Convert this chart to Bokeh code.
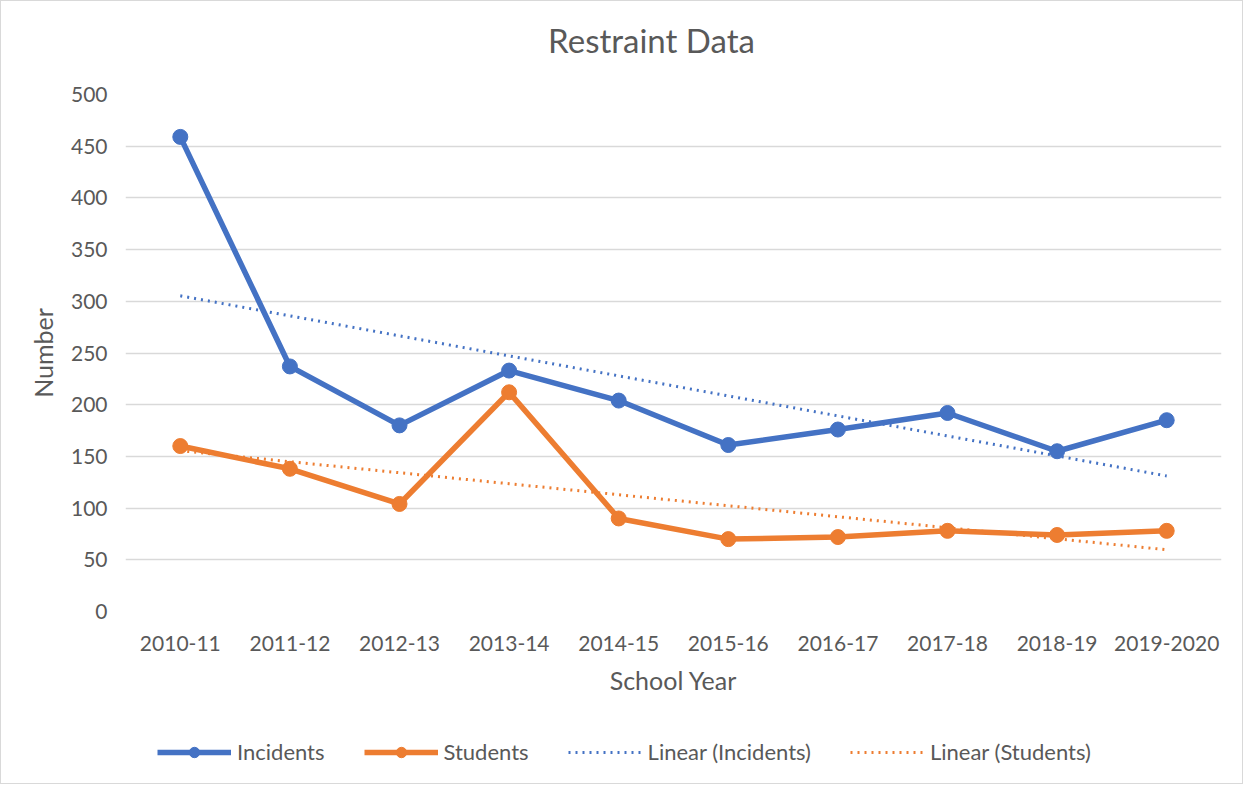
import numpy as np
from bokeh.plotting import figure
from bokeh.layouts import column
from bokeh.models import Legend, LegendItem, Range1d, SingleIntervalTicker, Div
from bokeh.embed import file_html
from bokeh.resources import INLINE

years = ["2010-11", "2011-12", "2012-13", "2013-14", "2014-15",
         "2015-16", "2016-17", "2017-18", "2018-19", "2019-2020"]
incidents = [459, 237, 180, 233, 204, 161, 176, 192, 155, 185]
students = [160, 138, 104, 212, 90, 70, 72, 78, 74, 78]

BLUE = "#4472C4"
ORANGE = "#ED7D31"
TEXT = "#595959"
GRID = "#D9D9D9"
FONT = "Lato"

# linear trendlines (least squares, as in the spreadsheet trendline)
xi = np.arange(len(years))
ci = np.polyfit(xi, incidents, 1)
cs = np.polyfit(xi, students, 1)
trend_inc = list(np.polyval(ci, xi))
trend_stu = list(np.polyval(cs, xi))

W = 1241

title = Div(text="Restraint Data", width=W, height=79, margin=0,
            styles={"font-family": FONT, "font-size": "33px", "color": TEXT,
                    "text-align": "center", "line-height": "78px",
                    "padding-left": "60px", "box-sizing": "border-box",
                    "width": f"{W}px"})

p = figure(x_range=years, width=W, height=631, output_backend="svg",
           toolbar_location=None,
           min_border_left=124, min_border_right=21,
           min_border_top=14, min_border_bottom=100)
p.y_range = Range1d(0, 500)
p.outline_line_color = None

p.xgrid.grid_line_color = None
p.ygrid.grid_line_color = GRID
p.ygrid.grid_line_width = 1.5
p.yaxis.ticker = SingleIntervalTicker(interval=50)

for ax in (p.xaxis, p.yaxis):
    ax.axis_line_color = None
    ax.major_tick_line_color = None
    ax.minor_tick_line_color = None
    ax.major_label_text_font = FONT
    ax.major_label_text_font_size = "21px"
    ax.major_label_text_color = TEXT
    ax.axis_label_text_font = FONT
    ax.axis_label_text_font_size = "25px"
    ax.axis_label_text_font_style = "normal"
    ax.axis_label_text_color = TEXT

p.xaxis.axis_label = "School Year"
p.yaxis.axis_label = "Number"
p.yaxis.major_label_standoff = 12
p.yaxis.axis_label_standoff = 10
p.xaxis.major_label_standoff = 18
p.xaxis.axis_label_standoff = 11

p.line(years, trend_inc, line_color=BLUE, line_width=3, line_dash="2 5")
p.line(years, trend_stu, line_color=ORANGE, line_width=3, line_dash="2 5")
p.line(years, incidents, line_color=BLUE, line_width=5.5)
p.scatter(years, incidents, size=15, fill_color=BLUE, line_color=BLUE)
p.line(years, students, line_color=ORANGE, line_width=5.5)
p.scatter(years, students, size=15, fill_color=ORANGE, line_color=ORANGE)

# legend strip below the chart; its renderers reuse the series but lie
# outside this strip's ranges, so only their legend swatches show
q = figure(width=W, height=72, output_backend="svg", toolbar_location=None,
           min_border=0, x_range=(-100, -99), y_range=(-100, -99))
q.axis.visible = False
q.grid.visible = False
q.outline_line_color = None
l_i = q.line(xi, incidents, line_color=BLUE, line_width=5.5)
m_i = q.scatter(xi, incidents, size=15, fill_color=BLUE, line_color=BLUE)
l_s = q.line(xi, students, line_color=ORANGE, line_width=5.5)
m_s = q.scatter(xi, students, size=15, fill_color=ORANGE, line_color=ORANGE)
l_ti = q.line(xi, trend_inc, line_color=BLUE, line_width=3, line_dash="2 5")
l_ts = q.line(xi, trend_stu, line_color=ORANGE, line_width=3, line_dash="2 5")

legend = Legend(items=[
    LegendItem(label="Incidents", renderers=[l_i, m_i]),
    LegendItem(label="Students", renderers=[l_s, m_s]),
    LegendItem(label="Linear (Incidents)", renderers=[l_ti]),
    LegendItem(label="Linear (Students)", renderers=[l_ts]),
], orientation="horizontal", location=(32, 18))
legend.label_text_font = FONT
legend.label_text_font_size = "22px"
legend.label_text_color = TEXT
legend.glyph_width = 74
legend.glyph_height = 26
legend.label_standoff = 6
legend.spacing = 39
legend.padding = 0
legend.margin = 0
legend.border_line_color = None
legend.background_fill_alpha = 0
q.add_layout(legend)

page = column(title, p, q, spacing=0, styles={"border": "1px solid #D9D9D9"})

open("out.html", "w").write(file_html(page, INLINE))
